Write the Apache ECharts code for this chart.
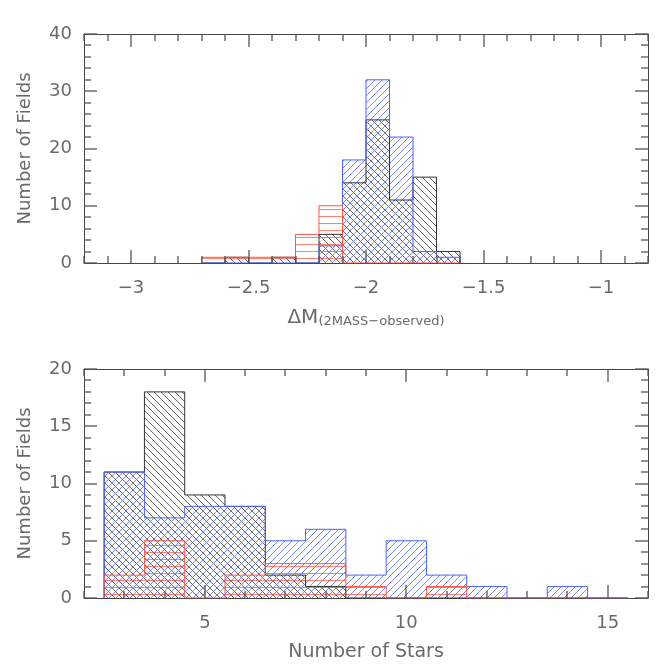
<!DOCTYPE html>
<html>
<head>
<meta charset="utf-8">
<script src="https://cdn.jsdelivr.net/npm/echarts@6/dist/echarts.min.js"></script>
<style>
html, body { margin: 0; padding: 0; background: #fff; }
#chart { width: 665px; height: 668px; }
</style>
</head>
<body>
<div id="chart"></div>
<script>
// 上图：ΔM 直方图，bin 宽 0.1
const topEdges = [-2.7, -2.6, -2.5, -2.4, -2.3, -2.2, -2.1, -2.0, -1.9, -1.8, -1.7, -1.6]
const topBlack = [0, 1, 0, 1, 0, 5, 14, 25, 11, 15, 2]
const topBlue = [0, 0, 0, 0, 0, 3, 18, 32, 22, 2, 1]
const topRed = [1, 1, 1, 1, 5, 10, 0, 0, 0, 0, 0]
const topXTicks = [-3, -2.5, -2, -1.5, -1]
const topYTicks = [0, 10, 20, 30, 40]

// 下图：星数直方图，bin 宽 1
const botEdges = [2.5, 3.5, 4.5, 5.5, 6.5, 7.5, 8.5, 9.5, 10.5, 11.5, 12.5, 13.5, 14.5, 15.5]
const botBlack = [11, 18, 9, 8, 2, 1, 0, 0, 0, 0, 0, 0, 0]
const botBlue = [11, 7, 8, 8, 5, 6, 2, 5, 2, 1, 0, 1, 0]
const botRed = [2, 5, 0, 2, 3, 3, 1, 0, 1, 0, 0, 0, 0]
const botXTicks = [5, 10, 15]
const botYTicks = [0, 5, 10, 15, 20]

const BLACK = '#333'
const BLUE = '#4a63ff'
const RED = '#ff5444'
const TEXT = '#6a6a6a'
const TICK = '#555'
const FONT = 'DejaVu Sans'

// 次刻度
const range = (a, b, step) => {
  const out = []
  for (let v = a; v <= b + 1e-9; v += step) out.push(Math.round(v * 10) / 10)
  return out
}
const minorsOf = (a, b, step, majors) => range(a, b, step).filter(v => !majors.includes(v))
const topXMinor = minorsOf(-3.2, -0.8, 0.1, topXTicks)
const botXMinor = minorsOf(2, 16, 1, botXTicks)
const topYMinor = minorsOf(0, 40, 2, topYTicks)
const botYMinor = minorsOf(0, 20, 1, botYTicks)

// 阴影线图案
const hatch = (color, kind) => {
  const P = 7
  const c = document.createElement('canvas')
  c.width = P
  c.height = P
  const ctx = c.getContext('2d')
  ctx.strokeStyle = color
  ctx.globalAlpha = 0.75
  ctx.lineWidth = 1
  ctx.beginPath()
  if (kind === 'h') {
    ctx.moveTo(0, P - 0.5); ctx.lineTo(P, P - 0.5)
  } else if (kind === '/') {
    ctx.moveTo(-1, P + 1); ctx.lineTo(P + 1, -1)
    ctx.moveTo(-1, 1); ctx.lineTo(1, -1)
    ctx.moveTo(P - 1, P + 1); ctx.lineTo(P + 1, P - 1)
  } else {
    ctx.moveTo(-1, -1); ctx.lineTo(P + 1, P + 1)
    ctx.moveTo(P - 1, -1); ctx.lineTo(P + 1, 1)
    ctx.moveTo(-1, P - 1); ctx.lineTo(1, P + 1)
  }
  ctx.stroke()
  return { image: c, repeat: 'repeat' }
}

const fmt = v => (v < 0 ? '\u2212' + Math.abs(v) : String(v))
const frameLine = { show: true, onZero: false, lineStyle: { color: '#444', width: 1 } }
const noLabel = { show: false }

const xAxes = (gridIndex, min, max, majors, name) => {
  const base = { gridIndex, type: 'value', min, max, splitLine: { show: false }, axisTick: { show: false }, axisLine: frameLine }
  return [
    {
      ...base, position: 'bottom',
      axisLabel: { customValues: majors, formatter: fmt, color: TEXT, fontSize: 18, fontFamily: FONT, margin: 16 },
      name, nameLocation: 'middle', nameGap: 45,
      nameTextStyle: {
        color: TEXT, fontSize: 19, fontFamily: FONT,
        rich: {
          a: { fontSize: 20, fontFamily: FONT, color: TEXT, padding: [0, 0, 7, 0] },
          b: { fontSize: 13, fontFamily: FONT, color: TEXT }
        }
      }
    },
    { ...base, position: 'top', axisLabel: noLabel }
  ]
}

const yAxes = (gridIndex, max, majors) => {
  const base = { gridIndex, type: 'value', min: 0, max, splitLine: { show: false }, axisTick: { show: false }, axisLine: frameLine }
  return [
    {
      ...base, position: 'left',
      axisLabel: { customValues: majors, color: TEXT, fontSize: 18, fontFamily: FONT, margin: 12 },
      name: 'Number of Fields', nameLocation: 'middle', nameGap: 50,
      nameTextStyle: { color: TEXT, fontSize: 18, fontFamily: FONT }
    },
    { ...base, position: 'right', axisLabel: noLabel }
  ]
}

const renderBin = fill => (params, api) => {
  const c = api.value(2)
  if (!c) return
  const p0 = api.coord([api.value(0), c])
  const p1 = api.coord([api.value(1), 0])
  return {
    type: 'rect',
    shape: { x: p0[0], y: p0[1], width: p1[0] - p0[0], height: p1[1] - p0[1] },
    style: { fill }
  }
}

// 四边朝内的刻度：位置取自坐标轴比例尺
const renderTick = (params, api) => {
  const r = params.coordSys
  const len = api.value(2)
  const p = api.coord([api.value(0), api.value(1)])
  const style = { stroke: TICK, lineWidth: 1.3 }
  if (api.value(3) === 0) {
    const x = Math.round(p[0])
    return {
      type: 'group',
      children: [
        { type: 'rect', shape: { x: x - 0.65, y: r.y + r.height - len, width: 1.3, height: len }, style: { fill: TICK } },
        { type: 'rect', shape: { x: x - 0.65, y: r.y, width: 1.3, height: len }, style: { fill: TICK } }
      ]
    }
  }
  const y = Math.round(p[1])
  return {
    type: 'group',
    children: [
      { type: 'rect', shape: { x: r.x, y: y - 0.65, width: len, height: 1.3 }, style: { fill: TICK } },
      { type: 'rect', shape: { x: r.x + r.width - len, y: y - 0.65, width: len, height: 1.3 }, style: { fill: TICK } }
    ]
  }
}
const tickData = (xMaj, xMin, yMaj, yMin, xRef) => [
  ...xMaj.map(v => [v, 0, 13, 0]),
  ...xMin.map(v => [v, 0, 7, 0]),
  ...yMaj.map(v => [xRef, v, 13, 1]),
  ...yMin.map(v => [xRef, v, 7, 1])
]

const binData = (edges, counts) => counts.map((c, i) => [edges[i], edges[i + 1], c])
const stepData = (edges, counts) => [[edges[0], 0], ...counts.map((c, i) => [edges[i + 1], c]), [edges[edges.length - 1], 0]]

const panelSeries = (xIdx, yIdx, edges, groups, ticks) => {
  const fills = groups.map(g => ({
    type: 'custom', xAxisIndex: xIdx, yAxisIndex: yIdx, z: 2,
    renderItem: renderBin(hatch(g.color, g.kind)),
    data: binData(edges, g.counts)
  }))
  const outlines = groups.map(g => ({
    type: 'line', xAxisIndex: xIdx, yAxisIndex: yIdx, z: 3, step: 'start',
    symbol: 'none', lineStyle: { color: g.color, width: 1 },
    data: stepData(edges, g.counts)
  }))
  const tickSeries = {
    type: 'custom', xAxisIndex: xIdx, yAxisIndex: yIdx, z: 4, silent: true,
    renderItem: renderTick, data: ticks
  }
  return [...fills, ...outlines, tickSeries]
}

const chart = echarts.init(document.getElementById('chart'))
const option = {
  animation: false,
  backgroundColor: '#fff',
  grid: [
    { left: 84, right: 17, top: 34, height: 229 },
    { left: 84, right: 17, top: 369, height: 229 }
  ],
  xAxis: [
    ...xAxes(0, -3.2, -0.8, topXTicks, '{a|\u0394M}{b|(2MASS\u2212observed)}'),
    ...xAxes(1, 2, 16, botXTicks, 'Number of Stars')
  ],
  yAxis: [
    ...yAxes(0, 40, topYTicks),
    ...yAxes(1, 20, botYTicks)
  ],
  series: [
    ...panelSeries(0, 0, topEdges, [
      { color: BLACK, kind: '\\', counts: topBlack },
      { color: BLUE, kind: '/', counts: topBlue },
      { color: RED, kind: 'h', counts: topRed }
    ], tickData(topXTicks, topXMinor, topYTicks, topYMinor, -3.2)),
    ...panelSeries(2, 2, botEdges, [
      { color: BLACK, kind: '\\', counts: botBlack },
      { color: BLUE, kind: '/', counts: botBlue },
      { color: RED, kind: 'h', counts: botRed }
    ], tickData(botXTicks, botXMinor, botYTicks, botYMinor, 2))
  ]
}
chart.setOption(option)
</script>
</body>
</html>
